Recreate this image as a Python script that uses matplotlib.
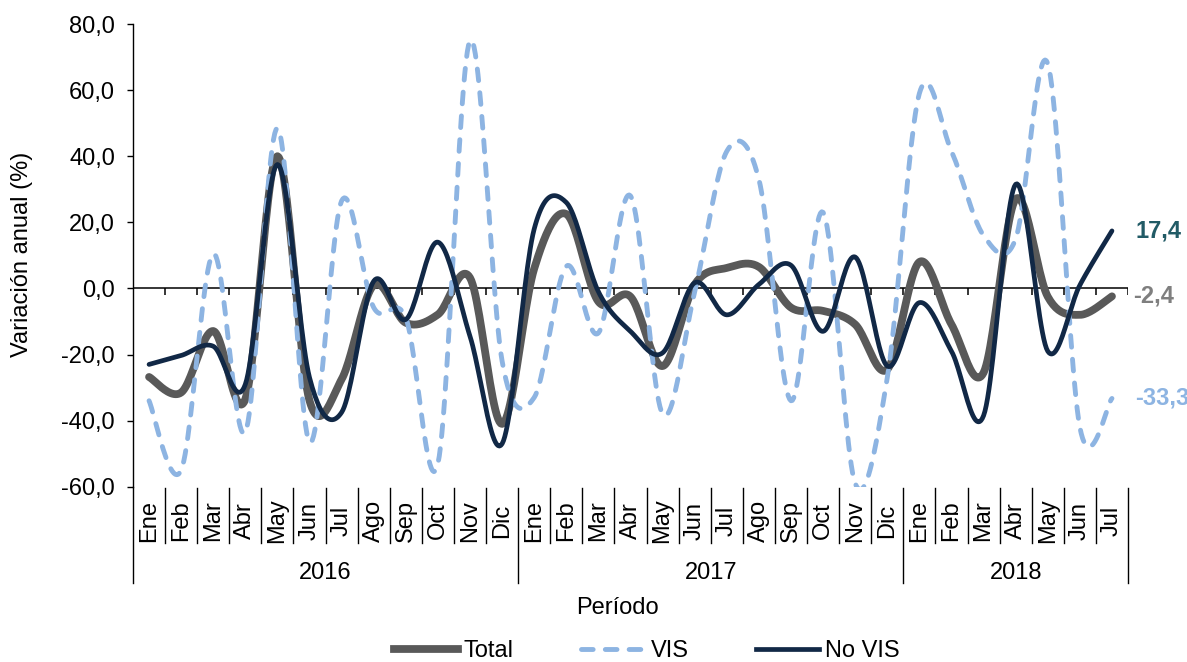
import numpy as np
import matplotlib
matplotlib.use("Agg")
import matplotlib.pyplot as plt
from matplotlib.lines import Line2D

plt.rcParams['font.family'] = ['Liberation Sans', 'DejaVu Sans']

# ---- data -------------------------------------------------------------
months = ["Ene", "Feb", "Mar", "Abr", "May", "Jun", "Jul", "Ago", "Sep", "Oct", "Nov", "Dic",
          "Ene", "Feb", "Mar", "Abr", "May", "Jun", "Jul", "Ago", "Sep", "Oct", "Nov", "Dic",
          "Ene", "Feb", "Mar", "Abr", "May", "Jun", "Jul"]
years = ["2016", "2017", "2018"]
year_counts = [12, 12, 7]

total = [-26.8, -31.5, -12.9, -33.5, 40.0, -34.0, -27.5, 1.0, -10.4, -7.9, 3.2, -41.0,
         6.0, 22.5, -4.0, -2.5, -23.5, 1.2, 6.2, 6.5, -5.8, -6.8, -10.9, -24.5,
         8.0, -10.9, -25.5, 27.0, -2.5, -8.0, -2.4]
vis = [-34.0, -55.0, 10.5, -43.5, 48.5, -46.5, 26.5, -5.8, -8.9, -53.0, 75.0, -22.0,
       -33.0, 6.7, -13.5, 28.0, -38.0, -1.0, 41.5, 33.0, -34.0, 23.0, -59.0, -27.0,
       59.0, 41.5, 16.0, 15.0, 68.0, -42.0, -33.3]
no_vis = [-23.0, -20.3, -17.5, -29.0, 37.5, -27.0, -37.5, 2.2, -9.4, 14.0, -14.5, -47.0,
          18.0, 26.0, -1.0, -13.0, -19.5, 1.7, -8.0, 1.2, 7.0, -13.0, 9.5, -23.5,
          -4.3, -19.0, -38.5, 31.5, -19.0, 1.0, 17.4]

series_names = ["Total", "VIS", "No VIS"]
y_ticks = [-60, -40, -20, 0, 20, 40, 60, 80]

# ---- helpers ----------------------------------------------------------
def smooth(values, n=24):
    """Bezier smoothing through every point (Catmull-Rom style)."""
    y = np.asarray(values, float)
    x = np.arange(len(y), dtype=float)
    py = np.concatenate([[y[0]], y, [y[-1]]])
    px = np.concatenate([[x[0]], x, [x[-1]]])
    t = np.linspace(0, 1, n, endpoint=False)
    xs, ys = [], []
    for i in range(len(y) - 1):
        out = []
        for p in (px, py):
            p0, p1, p2, p3 = p[i], p[i + 1], p[i + 2], p[i + 3]
            c1 = p1 + (p2 - p0) / 6.0
            c2 = p2 - (p3 - p1) / 6.0
            out.append((1 - t) ** 3 * p1 + 3 * (1 - t) ** 2 * t * c1
                       + 3 * (1 - t) * t ** 2 * c2 + t ** 3 * p2)
        xs.append(out[0])
        ys.append(out[1])
    xs.append([x[-1]])
    ys.append([y[-1]])
    return np.concatenate(xs), np.concatenate(ys)


def fmt(v):
    return f"{v:.1f}".replace(".", ",")


FS = 17

# ---- figure -----------------------------------------------------------
fig = plt.figure(figsize=(11.87, 6.62), dpi=100)
ax = fig.add_axes([0.11205, 0.2648, 0.83825, 0.69894])

n = len(months)
ax.set_xlim(-0.5, n - 0.5)
ax.set_ylim(-60, 80)

c_total = "#595959"
c_vis = "#8DB4E2"
c_novis = "#112846"

# zero line acting as category axis
ax.axhline(0, color="black", lw=1.1, zorder=1)
bounds = np.arange(n + 1) - 0.5
ax.vlines(bounds, -1.9, 0, color="black", lw=1.1, zorder=1)

xs, ys = smooth(total)
ax.plot(xs, ys, color=c_total, lw=5.6, solid_capstyle="round", zorder=3)
xs, ys = smooth(vis)
ax.plot(xs, ys, color=c_vis, lw=3.5, dashes=(2.4, 2.5), dash_capstyle="round", zorder=4)
xs, ys = smooth(no_vis)
ax.plot(xs, ys, color=c_novis, lw=3.4, solid_capstyle="round", zorder=5)

# end-of-series values
ax.text(n - 1 + 0.72, no_vis[-1], fmt(no_vis[-1]), color="#215B66", fontsize=FS,
        fontweight="bold", ha="left", va="center", clip_on=False)
ax.text(n - 1 + 0.66, total[-1], fmt(total[-1]), color="#7F7F7F", fontsize=FS,
        fontweight="bold", ha="left", va="center", clip_on=False)
ax.text(n - 1 + 0.72, vis[-1], fmt(vis[-1]), color="#8DB4E2", fontsize=FS,
        fontweight="bold", ha="left", va="center", clip_on=False)

# y axis
for s in ("top", "right", "bottom"):
    ax.spines[s].set_visible(False)
ax.spines["left"].set_linewidth(1.0)
ax.set_yticks(y_ticks)
ax.set_yticklabels([fmt(v) for v in y_ticks], fontsize=FS)
ax.tick_params(axis="y", direction="out", length=4, width=1, pad=9)
ax.set_xticks([])
fig.text(0.0185, 0.615, "Variación anual (%)", rotation=90, ha="center", va="center",
         fontsize=FS)

# multi-level category labels below the plot
tr = ax.get_xaxis_transform()
y_month_sep = -0.1217
y_year_sep = -0.2081
ax.plot([-0.5, -0.5], [0, y_year_sep], transform=tr, color="black", lw=1.0, clip_on=False)
year_edges = np.concatenate([[0], np.cumsum(year_counts)]) - 0.5
for b in bounds[1:]:
    bottom = y_year_sep if np.any(np.isclose(b, year_edges)) else y_month_sep
    ax.plot([b, b], [-0.002, bottom], transform=tr, color="black", lw=1.0, clip_on=False)
for i, m in enumerate(months):
    ax.text(i, -0.0741, m, transform=tr, rotation=90, ha="center", va="center",
            fontsize=FS, clip_on=False)
for k, yr in enumerate(years):
    ax.text((year_edges[k] + year_edges[k + 1]) / 2, -0.1865, yr, transform=tr,
            ha="center", va="center", fontsize=FS, clip_on=False)

fig.text(0.5198, 0.0816, "Período", ha="center", va="center", fontsize=FS)

handles = [
    Line2D([], [], color=c_total, lw=5.6),
    Line2D([], [], color=c_vis, lw=3.5, dashes=(2.4, 2.5), dash_capstyle="round"),
    Line2D([], [], color=c_novis, lw=3.4),
]
fig.legend(handles, series_names, loc="center", bbox_to_anchor=(0.545, 0.016),
           ncol=3, frameon=False, fontsize=FS, handlelength=2.7,
           handletextpad=0.25, columnspacing=2.85)

fig.savefig("out.png", dpi=100)
